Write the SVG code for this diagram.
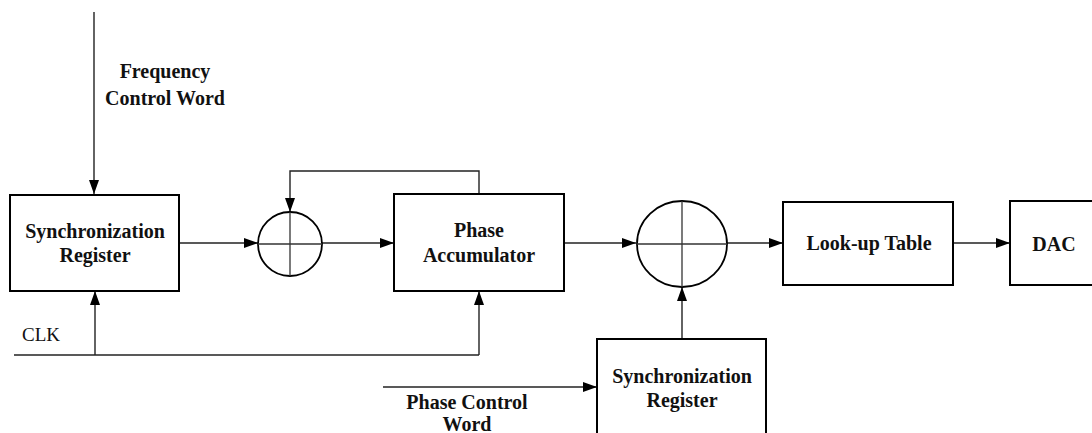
<svg xmlns="http://www.w3.org/2000/svg" width="1092" height="433" viewBox="0 0 1092 433">
  <defs>
    <marker id="arrow" markerWidth="14" markerHeight="10" refX="14" refY="5" orient="auto" markerUnits="userSpaceOnUse">
      <path d="M0,0 L14,5 L0,10 Z" fill="#000"/>
    </marker>
    <style>
      .box { fill: #fff; stroke: #000; stroke-width: 2; }
      .sum { fill: #fff; stroke: #000; stroke-width: 1.8; }
      .cross { stroke: #333; stroke-width: 1.3; fill: none; }
      .wire { stroke: #222; stroke-width: 1.4; fill: none; }
      .lbl { font-family: "Liberation Serif", "Times New Roman", serif; font-weight: bold; font-size: 20px; fill: #111; text-anchor: middle; }
      .plain { font-family: "Liberation Serif", "Times New Roman", serif; font-size: 19px; fill: #111; }
    </style>
  </defs>
  <rect width="1092" height="433" fill="#fff"/>

  <!-- connectors -->
  <g id="connectors">
    <line class="wire" x1="94" y1="12" x2="94" y2="194" marker-end="url(#arrow)"/>
    <line class="wire" x1="179" y1="243" x2="258" y2="243" marker-end="url(#arrow)"/>
    <line class="wire" x1="322" y1="243" x2="394" y2="243" marker-end="url(#arrow)"/>
    <polyline class="wire" points="479,194 479,171 290,171 290,212" marker-end="url(#arrow)"/>
    <line class="wire" x1="14" y1="355" x2="479" y2="355"/>
    <line class="wire" x1="95" y1="355" x2="95" y2="291" marker-end="url(#arrow)"/>
    <line class="wire" x1="479" y1="355" x2="479" y2="291" marker-end="url(#arrow)"/>
    <line class="wire" x1="564" y1="243" x2="636" y2="243" marker-end="url(#arrow)"/>
    <line class="wire" x1="682" y1="339" x2="682" y2="287" marker-end="url(#arrow)"/>
    <line class="wire" x1="383" y1="387" x2="597" y2="387" marker-end="url(#arrow)"/>
    <line class="wire" x1="727" y1="243" x2="783" y2="243" marker-end="url(#arrow)"/>
    <line class="wire" x1="953" y1="243" x2="1010" y2="243" marker-end="url(#arrow)"/>
  </g>

  <!-- input labels -->
  <g id="freq-label">
    <text class="lbl" x="165" y="78">Frequency</text>
    <text class="lbl" x="165" y="105">Control Word</text>
  </g>
  <g id="clk-label">
    <text class="plain" x="22" y="341">CLK</text>
  </g>
  <g id="phase-label">
    <text class="lbl" x="467" y="409">Phase Control</text>
    <text class="lbl" x="467" y="431">Word</text>
  </g>

  <g id="sync-reg-1">
    <rect class="box" x="10" y="195" width="169" height="96"/>
    <text class="lbl" x="95" y="238">Synchronization</text>
    <text class="lbl" x="95" y="262">Register</text>
  </g>

  <g id="adder-1">
    <circle class="sum" cx="290" cy="244" r="32"/>
    <line class="cross" x1="258" y1="244" x2="322" y2="244"/>
    <line class="cross" x1="290" y1="212" x2="290" y2="276"/>
  </g>

  <g id="phase-acc">
    <rect class="box" x="394" y="194" width="170" height="97"/>
    <text class="lbl" x="479" y="237">Phase</text>
    <text class="lbl" x="479" y="262">Accumulator</text>
  </g>

  <g id="adder-2">
    <ellipse class="sum" cx="682" cy="244" rx="45" ry="43"/>
    <line class="cross" x1="637" y1="244" x2="727" y2="244"/>
    <line class="cross" x1="682" y1="201" x2="682" y2="287"/>
  </g>

  <g id="lut">
    <rect class="box" x="783" y="202" width="170" height="83"/>
    <text class="lbl" x="869" y="250">Look-up Table</text>
  </g>

  <g id="dac">
    <rect class="box" x="1010" y="201" width="90" height="84"/>
    <text class="lbl" x="1054" y="251">DAC</text>
  </g>

  <g id="sync-reg-2">
    <rect class="box" x="597" y="339" width="169" height="110"/>
    <text class="lbl" x="682" y="383">Synchronization</text>
    <text class="lbl" x="682" y="407">Register</text>
  </g>
</svg>
